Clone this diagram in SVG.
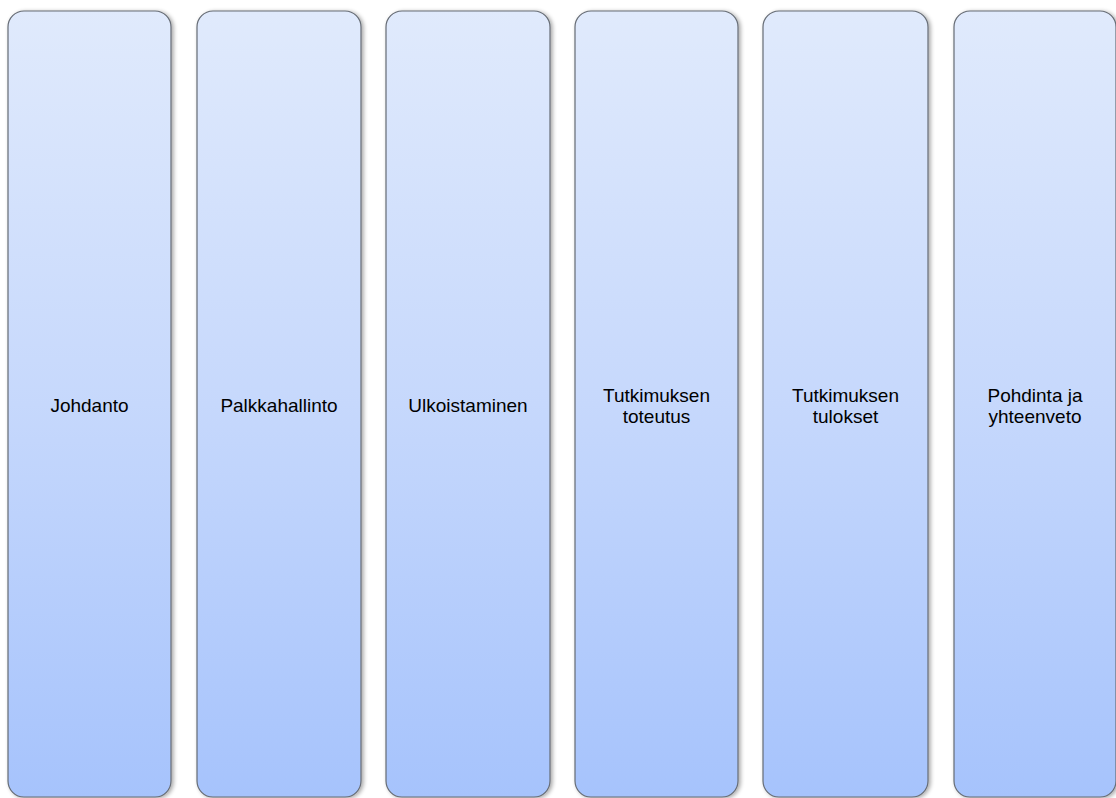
<svg xmlns="http://www.w3.org/2000/svg" width="1116" height="798" viewBox="0 0 1116 798">
<defs>
<linearGradient id="g" x1="0" y1="0" x2="0" y2="1">
<stop offset="0" stop-color="#e0eafc"/>
<stop offset="0.5" stop-color="#c6d8fc"/>
<stop offset="1" stop-color="#a6c3fc"/>
</linearGradient>
<filter id="sh" x="-10%" y="-5%" width="130%" height="110%">
<feGaussianBlur in="SourceAlpha" stdDeviation="2"/>
<feOffset dx="2" dy="1" result="b"/>
<feComponentTransfer><feFuncA type="linear" slope="0.35"/></feComponentTransfer>
<feMerge><feMergeNode/><feMergeNode in="SourceGraphic"/></feMerge>
</filter>
</defs>
<style>
.box{fill:url(#g);stroke:#666c75;stroke-width:1.2;filter:url(#sh)}
.t{font-family:"Liberation Sans",Arial,sans-serif;font-size:19px;fill:#000;text-anchor:middle}
</style>
<rect width="1116" height="798" fill="#ffffff"/>
<g id="n1"><rect class="box" x="8" y="11" width="163" height="786" rx="16"/><text class="t" x="89.5" y="412">Johdanto</text></g>
<g id="n2"><rect class="box" x="197" y="11" width="164" height="786" rx="16"/><text class="t" x="279" y="412">Palkkahallinto</text></g>
<g id="n3"><rect class="box" x="386" y="11" width="164" height="786" rx="16"/><text class="t" x="468" y="412">Ulkoistaminen</text></g>
<g id="n4"><rect class="box" x="575" y="11" width="163" height="786" rx="16"/><text class="t" x="656.5" y="402">Tutkimuksen</text><text class="t" x="656.5" y="423">toteutus</text></g>
<g id="n5"><rect class="box" x="763" y="11" width="165" height="786" rx="16"/><text class="t" x="845.5" y="402">Tutkimuksen</text><text class="t" x="845.5" y="423">tulokset</text></g>
<g id="n6"><rect class="box" x="954" y="11" width="162" height="786" rx="16"/><text class="t" x="1035" y="402">Pohdinta ja</text><text class="t" x="1035" y="423">yhteenveto</text></g>
<g id="connectors"></g>
</svg>
